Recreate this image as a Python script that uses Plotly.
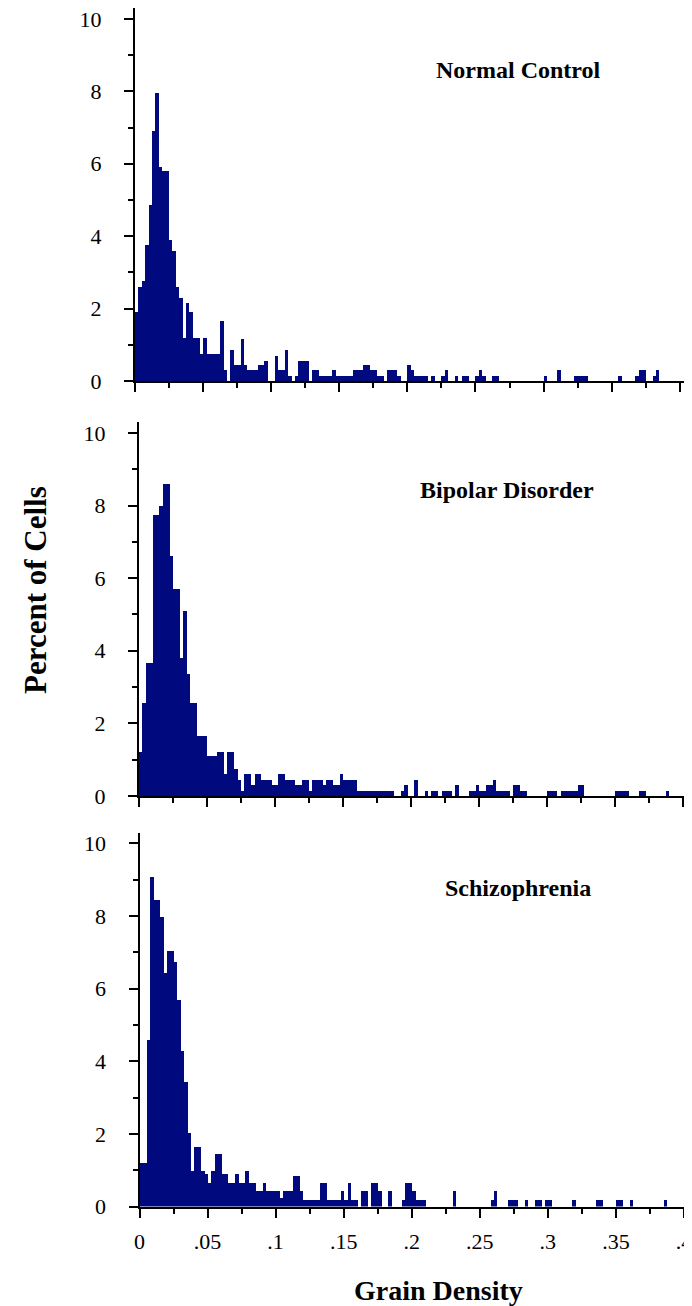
import plotly.graph_objects as go

# ── Data: percent of cells per grain-density bin (bin width .0025, 0 → .4) ──
BIN_WIDTH = 0.0025
bin_start = [round(i * BIN_WIDTH, 4) for i in range(160)]

normal_control = [
    1.9, 2.6, 2.75, 3.75, 4.85, 6.9, 7.95, 5.9, 5.8, 5.8,
    3.9, 3.6, 2.6, 2.3, 1.2, 2.15, 1.9, 1.2, 1.2, 0.75,
    1.2, 0.75, 0.75, 0.75, 0.75, 1.65, 0.3, 0, 0.85, 0.45,
    0.45, 1.15, 0.45, 0.3, 0.3, 0.3, 0.45, 0.45, 0.55, 0,
    0, 0.7, 0.3, 0.3, 0.85, 0.15, 0, 0.15, 0.55, 0.55,
    0.55, 0, 0.3, 0.3, 0.15, 0.15, 0.15, 0.15, 0.3, 0.15,
    0.15, 0.15, 0.15, 0.15, 0.3, 0.3, 0.3, 0.45, 0.45, 0.3,
    0.3, 0.15, 0.15, 0, 0.3, 0.3, 0.3, 0.15, 0, 0,
    0.45, 0.3, 0.15, 0.15, 0.15, 0.15, 0, 0.15, 0, 0,
    0.15, 0.3, 0, 0, 0.15, 0, 0.15, 0.15, 0, 0,
    0.15, 0.3, 0.15, 0, 0, 0.15, 0.15, 0, 0, 0,
    0, 0, 0, 0, 0, 0, 0, 0, 0, 0,
    0.15, 0, 0, 0, 0.3, 0, 0, 0, 0, 0.15,
    0.15, 0.15, 0.15, 0, 0, 0, 0, 0, 0, 0,
    0, 0, 0.15, 0, 0, 0, 0, 0.15, 0.3, 0.3,
    0, 0, 0.15, 0.3, 0, 0, 0, 0, 0, 0,
]

bipolar_disorder = [
    1.2, 2.55, 3.65, 3.65, 7.75, 7.75, 8.0, 8.6, 8.6, 6.6,
    5.7, 5.7, 3.8, 5.1, 3.35, 2.55, 2.55, 1.65, 1.65, 1.65,
    1.1, 1.1, 1.1, 1.2, 1.2, 0.6, 1.2, 1.2, 0.75, 0.45,
    0.15, 0.6, 0.6, 0.3, 0.6, 0.6, 0.45, 0.45, 0.45, 0.3,
    0.3, 0.6, 0.6, 0.45, 0.45, 0.45, 0.3, 0.3, 0.45, 0.45,
    0.15, 0.45, 0.45, 0.45, 0.3, 0.45, 0.45, 0.3, 0.3, 0.6,
    0.45, 0.45, 0.45, 0.45, 0.15, 0.15, 0.15, 0.15, 0.15, 0.15,
    0.15, 0.15, 0.15, 0.15, 0.15, 0, 0, 0.15, 0.3, 0,
    0, 0.45, 0, 0, 0.15, 0, 0.15, 0.15, 0, 0.15,
    0.15, 0.15, 0, 0.3, 0, 0, 0, 0.15, 0.15, 0.3,
    0.15, 0.15, 0.3, 0.3, 0.45, 0.15, 0.15, 0.15, 0.15, 0,
    0.3, 0.3, 0.15, 0.15, 0, 0, 0, 0, 0, 0,
    0.15, 0.15, 0.15, 0, 0.15, 0.15, 0.15, 0.15, 0.15, 0.3,
    0.3, 0, 0, 0, 0, 0, 0, 0, 0, 0,
    0.15, 0.15, 0.15, 0.15, 0, 0, 0, 0.15, 0.15, 0,
    0, 0, 0, 0, 0, 0.15, 0, 0, 0, 0,
]

schizophrenia = [
    1.2, 1.2, 4.6, 9.1, 8.45, 8.45, 8.0, 6.45, 7.05, 7.05,
    6.75, 5.7, 4.3, 3.45, 2.05, 1.0, 1.65, 1.65, 1.0, 0.9,
    0.65, 1.0, 1.45, 1.45, 0.9, 0.9, 0.65, 0.65, 0.9, 0.65,
    0.65, 1.0, 0.65, 0.65, 0.45, 0.45, 0.65, 0.45, 0.45, 0.45,
    0.45, 0.25, 0.45, 0.45, 0.45, 0.85, 0.85, 0.45, 0.2, 0.2,
    0.2, 0.2, 0.2, 0.65, 0.65, 0.2, 0.2, 0.2, 0.2, 0.45,
    0.2, 0.65, 0.2, 0.2, 0, 0.45, 0.45, 0, 0.65, 0.65,
    0.45, 0, 0, 0.45, 0, 0, 0, 0.2, 0.65, 0.65,
    0.45, 0.2, 0.2, 0.2, 0, 0, 0, 0, 0, 0,
    0, 0, 0.45, 0, 0, 0, 0, 0, 0, 0,
    0, 0, 0, 0.2, 0.45, 0, 0, 0, 0.2, 0.2,
    0.2, 0, 0, 0.2, 0, 0, 0.2, 0.2, 0, 0.2,
    0.2, 0, 0, 0, 0, 0, 0, 0.2, 0, 0,
    0, 0, 0, 0, 0.2, 0.2, 0, 0, 0, 0,
    0.2, 0.2, 0, 0, 0.2, 0, 0, 0, 0, 0,
    0, 0, 0, 0, 0.2, 0, 0, 0, 0, 0,
]

panel_labels = ["Normal Control", "Bipolar Disorder", "Schizophrenia"]
x_tick_vals = [0, 0.05, 0.1, 0.15, 0.2, 0.25, 0.3, 0.35, 0.4]
x_tick_text = ["0", ".05", ".1", ".15", ".2", ".25", ".3", ".35", ".4"]
y_tick_vals = [0, 2, 4, 6, 8, 10]

# ── Styling / layout ──────────────────────────────────────────────────────────
# the page body has an 8px margin, so the figure is drawn 8px smaller and
# positions below are given in window pixels and shifted back by OFF
OFF = 8
FIG_W, FIG_H = 692 - OFF, 1306 - OFF
BAR_COLOR = "#000a7e"
SERIF = "Liberation Serif, Times New Roman, serif"


def px_x(sx):
    return min(1, max(0, (sx - OFF) / FIG_W))


def px_y(sy):
    return min(1, max(0, 1 - (sy - OFF) / FIG_H))


# window-pixel placement: x=0 position, x max, zero line, axis top, y max, label centre
panels = [
    dict(left=135, xmax=0.409, y0=381, y1=8, ymax=10.3, lx=518, ly=70),
    dict(left=139, xmax=0.4066, y0=796, y1=422, ymax=10.3, lx=507, ly=490),
    dict(left=139.5, xmax=0.4059, y0=1206.5, y1=832.5, ymax=10.3, lx=518, ly=888),
]
series = [normal_control, bipolar_disorder, schizophrenia]

fig = go.Figure()
annotations = []

for i, (p, vals, label) in enumerate(zip(panels, series, panel_labels)):
    n = i + 1
    fig.add_trace(go.Bar(
        x=bin_start,
        y=vals,
        offset=0,
        width=BIN_WIDTH,
        marker=dict(color=BAR_COLOR, line=dict(width=0)),
        xaxis=f"x{n}",
        yaxis=f"y{n}",
        showlegend=False,
    ))

    axis_common = dict(
        showline=True, linecolor="black", linewidth=2,
        ticks="outside", tickcolor="black", tickwidth=2, ticklen=9,
        showgrid=False, zeroline=False,
        ticklabeloverflow="allow",
        tickfont=dict(family=SERIF, size=22, color="black"),
    )
    xkey = "xaxis" if n == 1 else f"xaxis{n}"
    ykey = "yaxis" if n == 1 else f"yaxis{n}"
    fig.update_layout(**{
        xkey: dict(
            axis_common,
            domain=[px_x(p["left"]), 1],
            range=[0, p["xmax"]],
            anchor=f"y{n}",
            tickmode="array", tickvals=x_tick_vals, ticktext=x_tick_text,
            showticklabels=(n == 3),
            ticklabelstandoff=5,
            minor=dict(ticks="outside", tick0=0, dtick=0.025, ticklen=5,
                       tickwidth=2, tickcolor="black"),
        ),
        ykey: dict(
            axis_common,
            domain=[px_y(p["y0"]), px_y(p["y1"])],
            range=[0, p["ymax"]],
            anchor=f"x{n}",
            tickmode="array", tickvals=y_tick_vals,
            ticklabelstandoff=18,
            minor=dict(ticks="outside", tick0=0, dtick=1, ticklen=5,
                       tickwidth=2, tickcolor="black"),
        ),
    })

    annotations.append(dict(
        text=f"<b>{label}</b>", x=px_x(p["lx"]), y=px_y(p["ly"]),
        xref="paper", yref="paper", xanchor="center", yanchor="middle",
        showarrow=False,
        font=dict(family=SERIF, size=24, color="black"),
    ))

annotations.append(dict(
    text="<b>Percent of Cells</b>", x=px_x(35), y=px_y(590),
    xref="paper", yref="paper", xanchor="center", yanchor="middle",
    showarrow=False, textangle=-90,
    font=dict(family=SERIF, size=31, color="black"),
))
annotations.append(dict(
    text="<b>Grain Density</b>", x=px_x(438), y=px_y(1290),
    xref="paper", yref="paper", xanchor="center", yanchor="middle",
    showarrow=False,
    font=dict(family=SERIF, size=28, color="black"),
))

fig.update_layout(
    width=FIG_W, height=FIG_H,
    margin=dict(l=0, r=0, t=0, b=0, autoexpand=False),
    paper_bgcolor="white", plot_bgcolor="white",
    bargap=0,
    showlegend=False,
    annotations=annotations,
)

fig.write_html("out.html")
